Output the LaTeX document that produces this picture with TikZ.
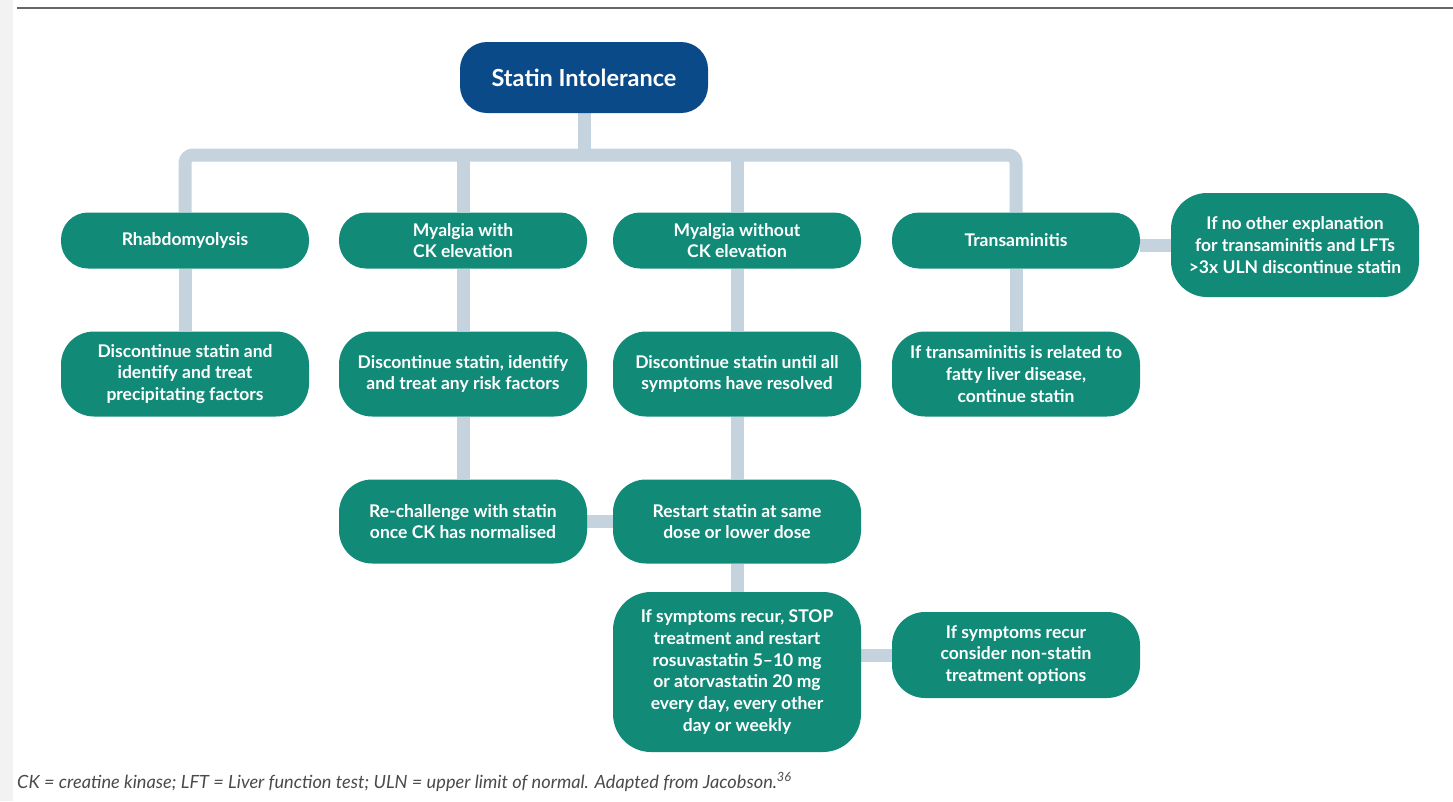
\documentclass[tikz,border=0pt]{standalone}
\usepackage{fontspec}
\setmainfont{Lato}
\usetikzlibrary{backgrounds}
\definecolor{tealbox}{HTML}{128A78}
\definecolor{navybox}{HTML}{0B4A88}
\definecolor{connclr}{HTML}{C4D3DD}
\definecolor{capclr}{HTML}{4A4A4A}
\begin{document}
\begin{tikzpicture}[x=1pt,y=-1pt,
  box/.style={rounded corners=27pt, fill=tealbox, text=white, align=center, inner sep=0pt,
    minimum width=248pt, font=\fontsize{17.5}{21.8}\selectfont\bfseries},
  rowone/.style={box, minimum height=56pt},
  rowtwo/.style={box, minimum height=85pt, rounded corners=33pt},
  rootbox/.style={rounded corners=27pt, fill=navybox, text=white, inner sep=0pt,
    minimum width=248pt, minimum height=71pt, font=\fontsize{23.5}{28}\selectfont\bfseries},
  cline/.style={draw=connclr, line width=13pt, line join=round},
  caption/.style={font=\fontsize{18.2}{20}\selectfont\itshape, text=capclr, anchor=west, inner sep=0pt}
]
\useasboundingbox (0,0) rectangle (1453,801);
\fill[gray!10] (0,0) rectangle (13,801);
\draw[gray!80!black, line width=2pt] (17,8) -- (1453,8);

\node[rootbox] (root) at (584,77.5) {Statin Intolerance};

\node[rowone] (rh) at (185,240.5) {Rhabdomyolysis};
\node[rowone] (mw) at (463,240.5) {Myalgia with\\CK elevation};
\node[rowone] (mn) at (737,240.5) {Myalgia without\\CK elevation};
\node[rowone] (tr) at (1016,240.5) {Transaminitis};
\node[box, minimum height=104pt, rounded corners=36pt] (trx) at (1295,245) {If no other explanation\\for transaminitis and LFTs\\>3x ULN discontinue statin};

\node[rowtwo] (rh2) at (185,374) {Discontinue statin and\\identify and treat\\precipitating factors};
\node[rowtwo] (mw2) at (463,374) {Discontinue statin, identify\\and treat any risk factors};
\node[rowtwo] (mn2) at (737,374) {Discontinue statin until all\\symptoms have resolved};
\node[rowtwo] (tr2) at (1016,374) {If transaminitis is related to\\fatty liver disease,\\continue statin};

\node[rowtwo, minimum height=84pt] (rc) at (463,521.5) {Re-challenge with statin\\once CK has normalised};
\node[rowtwo, minimum height=84pt] (rs) at (737,521.5) {Restart statin at same\\dose or lower dose};

\node[box, minimum height=160pt, rounded corners=38pt] (stop) at (737,672) {If symptoms recur, STOP\\treatment and restart\\rosuvastatin 5--10 mg\\or atorvastatin 20 mg\\every day, every other\\day or weekly};
\node[rowtwo, minimum height=86pt] (ns) at (1016,655) {If symptoms recur\\consider non-statin\\treatment options};

\node[caption] (cap) at (17,782) {CK = creatine kinase; LFT = Liver function test; ULN = upper limit of normal. Adapted from Jacobson.\textsuperscript{36}};

\coordinate (bar) at (0,155);
\begin{pgfonlayer}{background}
\draw[cline, rounded corners=8pt] (rh.north) |- (tr.north |- bar) -- (tr.north);
\draw[cline] (root.south) -- (root.south |- bar);
\draw[cline] (mw.north) -- (mw.north |- bar);
\draw[cline] (mn.north) -- (mn.north |- bar);
\draw[cline] (trx.west) -- (trx.west -| tr.east);
\draw[cline] (rh.south) -- (rh2.north);
\draw[cline] (mw.south) -- (mw2.north);
\draw[cline] (mn.south) -- (mn2.north);
\draw[cline] (tr.south) -- (tr2.north);
\draw[cline] (mw2.south) -- (rc.north);
\draw[cline] (mn2.south) -- (rs.north);
\draw[cline] (rc.east) -- (rs.west);
\draw[cline] (rs.south) -- (stop.north);
\draw[cline] (ns.west) -- (ns.west -| stop.east);
\end{pgfonlayer}
\end{tikzpicture}
\end{document}
